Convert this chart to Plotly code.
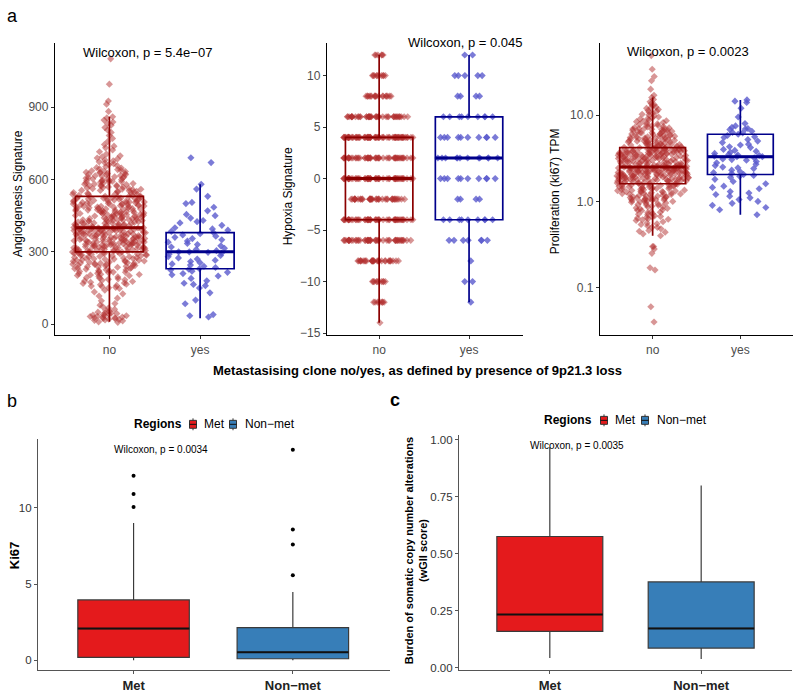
import plotly.graph_objects as go

# ---------------- panel a data ----------------
groups_a = ["no", "yes"]

angio_no = [8, 14, 18, 21, 24, 27, 30, 33, 35, 38, 41, 44, 47, 50, 54, 58, 62, 67, 73, 79,
            10, 16, 20, 23, 26, 29, 32, 37, 40, 46,
            86, 97, 108, 117, 126, 134, 141, 148,
            153, 158, 164, 169, 174, 179, 184, 188, 193, 198,
            151, 156, 161, 166, 171, 177, 182, 186, 191, 196,
            201, 204, 207, 210, 213, 216, 219, 222, 225, 228, 231, 234, 237, 240, 243, 245, 247, 249,
            202, 206, 211, 215, 218, 223, 226, 230, 233, 236, 239, 242, 246, 248, 252, 254, 258, 262,
            266, 270, 272, 276, 280, 284, 286, 290, 292, 294, 297, 299,
            251, 253, 255, 257, 259, 261, 263, 265, 267, 269, 271, 273, 275, 277, 279, 281, 283, 285,
            287, 289, 291, 293, 295, 296, 298, 299,
            300, 301, 303, 304, 305, 306, 308, 309, 310, 311, 313, 314, 315, 317, 318, 319, 320, 322,
            323, 324, 325, 327, 328, 329, 331, 332, 333, 334, 336, 337, 338, 339, 341, 342, 343, 345,
            346, 347, 348, 350, 351, 352, 353, 355, 356, 357, 359, 360, 361, 362, 364, 365, 366, 367,
            369, 370, 371, 373, 374, 375, 376, 378, 379, 380, 381, 383, 384, 385, 387, 388, 389, 390,
            392, 393, 394, 395, 396, 397, 398, 399, 399, 400, 400,
            300.5, 302.5, 305.5, 307.5, 309.5, 312.5, 314.5, 316.5, 318.5, 321.5, 323.5, 326.5,
            328.5, 330.5, 333.5, 335.5, 337.5, 340.5, 342.5, 344.5, 347.5, 349.5, 351.5, 354.5,
            356.5, 358.5, 361.5, 363.5, 365.5, 368.5, 370.5, 372.5, 375.5, 377.5, 379.5, 382.5,
            384.5, 386.5, 389.5, 391.5, 393.5, 396.5, 398.5,
            401, 403, 404, 406, 407, 409, 411, 412, 414, 415, 417, 419, 420, 422, 423, 425, 427, 428,
            430, 431, 433, 435, 436, 438, 439, 441, 443, 444, 446, 447, 449, 451, 452, 454, 455, 457,
            459, 460, 462, 463, 465, 467, 468, 470, 471, 473, 475, 476, 478, 479, 481, 483, 484, 486,
            487, 489, 491, 492, 494, 495, 497, 499, 500, 502, 503, 505, 507, 508, 510, 511, 513, 515,
            516, 518, 519, 521, 523, 524, 526, 527, 529, 530,
            402.5, 405.5, 408.5, 410.5, 413.5, 416.5, 418.5, 421.5, 424.5, 426.5, 429.5, 432.5,
            434.5, 437.5, 440.5, 442.5, 445.5, 448.5, 450.5, 453.5, 456.5, 458.5, 461.5, 464.5,
            466.5, 469.5, 472.5, 474.5, 477.5, 480.5, 482.5, 485.5, 488.5, 490.5, 493.5, 496.5,
            498.5, 501.5, 504.5, 506.5, 509.5, 512.5, 514.5, 517.5, 520.5, 522.5, 525.5, 528.5,
            532, 534, 537, 539, 541, 544, 546, 548, 551, 553, 555, 558, 560, 562, 565, 567, 569, 572,
            574, 576, 579, 581, 583, 586, 588, 590, 593, 595, 597, 599,
            533.5, 538.5, 542.5, 547.5, 550.5, 554.5, 559.5, 563.5, 568.5, 571.5, 575.5, 580.5,
            584.5, 589.5, 592.5, 596.5, 601.5, 606.5, 610.5, 615.5, 620.5, 624.5, 629.5, 634.5,
            602, 605, 608, 611, 613, 616, 619, 622, 625, 627, 630, 633, 636, 639, 641, 644, 647, 649,
            653, 657, 661, 665, 669, 673, 677, 681, 685, 689, 694, 698,
            705, 715, 722, 731, 738, 745, 758, 770, 782, 795,
            805, 815, 825, 832, 838, 846, 855, 860,
            882, 912, 925, 995, 1100]
angio_yes = [690, 670, 580, 560, 530, 505, 500, 485, 470, 455, 450, 440, 430, 425, 420, 410, 400,
             395, 390, 385, 380, 375, 370, 365, 360, 355, 350, 345, 340, 335, 330, 325, 320, 315,
             310, 305, 300, 300, 298, 295, 290, 285, 280, 275, 270, 265, 260, 255, 250, 245, 240,
             235, 230, 228, 225, 220, 215, 210, 205, 200, 190, 180, 170, 165, 160, 150, 130, 100,
             85, 40, 35, 30]
angio_q1 = [300, 230]
angio_med = [400, 300]
angio_q3 = [530, 380]
angio_lo = [10, 25]
angio_hi = [860, 580]

hyp_levels = [12, 10, 8, 6, 4, 2, 0, -2, -4, -6, -8, -10, -12, -14]
hyp_no_counts = [6, 10, 18, 45, 70, 55, 55, 40, 55, 50, 30, 10, 8, 1]
hyp_yes_counts = [2, 5, 4, 9, 10, 12, 10, 4, 9, 7, 1, 2, 1, 0]
hyp_q1 = [-4, -4]
hyp_med = [0, 2]
hyp_q3 = [4, 6]
hyp_lo = [-14, -12]
hyp_hi = [12, 12]

ki_no = [49, 34, 28, 25, 20, 17,
         16, 15.2, 14.3, 13.6, 13, 12.4, 12, 11.6, 11.1, 10.8, 10.5, 10.2, 10, 12.2, 11.3, 13.2,
         9.8, 9.5, 9.3, 9.0, 8.8, 8.6, 8.4, 8.2, 8.0, 7.9, 7.7, 7.6, 7.4, 7.3, 7.2, 7.1, 7.0, 7.0,
         9.1, 8.5, 7.8, 7.5,
         6.95, 6.9, 6.8, 6.7, 6.6, 6.5, 6.4, 6.35, 6.3, 6.2, 6.1, 6.0, 5.95, 5.9, 5.8, 5.75, 5.7,
         5.6, 5.55, 5.5, 5.45, 5.4, 5.35, 5.3, 5.25, 5.2, 5.15, 5.1, 5.05, 5.0,
         6.85, 6.65, 6.45, 6.25, 6.05, 5.9, 5.7, 5.5, 5.3, 5.1,
         4.98, 4.93, 4.88, 4.84, 4.8, 4.75, 4.7, 4.66, 4.62, 4.58, 4.54, 4.5, 4.46, 4.42, 4.38,
         4.33, 4.28, 4.24, 4.9, 4.7, 4.55, 4.4, 4.3, 4.25,
         4.21, 4.19, 4.16, 4.15, 4.12, 4.1, 4.07, 4.06, 4.03, 4.01, 3.99, 3.97, 3.95, 3.93, 3.9,
         3.89, 3.86, 3.85, 3.82, 3.8, 3.78, 3.76, 3.74, 3.72, 3.7, 3.68, 3.66, 3.64, 3.62, 3.6,
         3.58, 3.56, 3.54, 3.52, 3.5, 3.48, 3.46, 3.44, 3.42, 3.4, 3.38, 3.36, 3.34, 3.32, 3.3,
         3.28, 3.26, 3.24, 3.22, 3.2, 3.18, 3.16, 3.14, 3.12, 3.1, 3.08, 3.06, 3.04, 3.02, 3.0,
         2.98, 2.96, 2.94, 2.92, 2.9, 2.88, 2.86, 2.84, 2.82, 2.8, 2.78, 2.76, 2.74, 2.72, 2.7,
         2.68, 2.66, 2.64, 2.62, 2.6, 2.58, 2.56, 2.54, 2.52, 2.51,
         4.05, 3.98, 3.91, 3.83, 3.77, 3.71, 3.65, 3.59, 3.53, 3.47, 3.41, 3.35, 3.29, 3.23,
         3.17, 3.11, 3.05, 2.99, 2.93, 2.87, 2.81, 2.75, 2.69, 2.63, 2.57, 2.53,
         2.49, 2.48, 2.47, 2.46, 2.45, 2.44, 2.43, 2.42, 2.41, 2.4, 2.39, 2.38, 2.37, 2.36, 2.35,
         2.34, 2.33, 2.32, 2.31, 2.3, 2.29, 2.28, 2.27, 2.26, 2.25, 2.24, 2.23, 2.22, 2.21, 2.2,
         2.19, 2.18, 2.17, 2.16, 2.15, 2.14, 2.13, 2.12, 2.11, 2.1, 2.09, 2.08, 2.07, 2.06, 2.05,
         2.04, 2.03, 2.02, 2.01, 2.0, 1.99, 1.98, 1.97, 1.96, 1.95, 1.94, 1.93, 1.92, 1.91, 1.9,
         1.89, 1.88, 1.87, 1.86, 1.85, 1.84, 1.83, 1.82, 1.81, 1.8, 1.79, 1.78, 1.77, 1.76, 1.75,
         1.74, 1.73, 1.72, 1.71, 1.7, 1.68, 1.66, 1.64, 1.62, 1.6,
         2.495, 2.455, 2.415, 2.375, 2.335, 2.295, 2.255, 2.215, 2.175, 2.135, 2.095, 2.055,
         2.015, 1.975, 1.935, 1.895, 1.855, 1.815, 1.775, 1.735, 1.695, 1.67, 1.65, 1.63, 1.61,
         1.59, 1.57, 1.56, 1.55, 1.53, 1.52, 1.5, 1.49, 1.47, 1.46, 1.45, 1.43, 1.42, 1.4, 1.39,
         1.37, 1.36, 1.35, 1.33, 1.32, 1.3, 1.29, 1.27, 1.26, 1.25, 1.23, 1.22, 1.2, 1.19, 1.17,
         1.16, 1.15, 1.13, 1.12, 1.1, 1.09, 1.08, 1.07, 1.06, 1.05, 1.04, 1.03, 1.02, 1.01, 1.0,
         1.58, 1.54, 1.51, 1.48, 1.44, 1.41, 1.38, 1.34, 1.31, 1.28, 1.24, 1.21, 1.18, 1.14,
         1.11, 1.08, 1.05, 1.02,
         0.98, 0.96, 0.94, 0.92, 0.9, 0.88, 0.86, 0.84, 0.82, 0.8, 0.78, 0.76, 0.74, 0.72, 0.7,
         0.68, 0.67, 0.65, 0.64, 0.63, 0.62, 0.6, 0.99, 0.95, 0.91, 0.87, 0.83, 0.79, 0.75,
         0.71, 0.66, 0.61,
         0.58, 0.56, 0.54, 0.52, 0.5, 0.48, 0.46, 0.44, 0.42, 0.4, 0.55, 0.5, 0.45,
         0.3, 0.3, 0.28, 0.25, 0.17, 0.16, 0.06, 0.04]
ki_yes = [15, 14.5, 14, 12, 9.5, 8, 7.5, 7.2, 7, 6.9, 6.8, 6.5, 6.3, 6.2, 6, 5.8, 5.6, 5.5, 5.2,
          5, 4.8, 4.6, 4.5, 4.3, 4.2, 4, 3.9, 3.8, 3.7, 3.6, 3.5, 3.45, 3.4, 3.35, 3.3, 3.3, 3.2,
          3.1, 3.05, 3, 2.9, 2.8, 2.7, 2.6, 2.5, 2.45, 2.4, 2.3, 2.2, 2.15, 2.1, 2.05, 2, 1.95,
          1.9, 1.8, 1.7, 1.6, 1.5, 1.45, 1.4, 1.3, 1.25, 1.2, 1.15, 1.1, 1.05, 1.0, 0.95, 0.9,
          0.85, 0.8, 0.7]
ki_q1 = [1.6, 2.05]
ki_med = [2.5, 3.3]
ki_q3 = [4.2, 6.0]
ki_lo = [0.4, 0.7]
ki_hi = [16, 15]

# ---------------- panel b / c data ----------------
regions = ["Met", "Non\u2212met"]
b_q1 = [0.19, 0.1]
b_med = [2.08, 0.52]
b_q3 = [3.96, 2.14]
b_lo = [0, 0]
b_hi = [9.0, 4.48]
b_out_met = [10.06, 10.9, 12.1]
b_out_nonmet = [5.58, 7.6, 8.57, 13.8]

c_q1 = [0.16, 0.087]
c_med = [0.234, 0.173]
c_q3 = [0.576, 0.377]
c_lo = [0.043, 0.039]
c_hi = [0.967, 0.80]

# ---------------- styling ----------------
W, H = 800, 695
FONT = "Liberation Sans, Arial, sans-serif"
NO_LINE = "#8B0000"
YES_LINE = "#00008B"
NO_PT = "rgba(178,45,45,0.5)"
YES_PT = "rgba(90,90,205,0.8)"
MET = "#E41A1C"
NONMET = "#377EB8"


def px(x):
    return x / W


def py(y):
    return 1 - y / H


fig = go.Figure()


def add_points(vals, cat, color, xa, ya, width=0.8):
    if not vals:
        return
    fig.add_trace(go.Box(
        x=[cat] * len(vals), y=vals, xaxis=xa, yaxis=ya,
        boxpoints="all", jitter=1, pointpos=0, width=width,
        line=dict(color="rgba(0,0,0,0)", width=0), fillcolor="rgba(0,0,0,0)",
        whiskerwidth=0,
        marker=dict(symbol="diamond", size=5.5, color=color, line=dict(width=0)),
        showlegend=False, hoverinfo="y"))


def add_banded(vals, cat, color, xa, ya, bands):
    for lo, hi, w in bands:
        add_points([v for v in vals if lo <= v < hi], cat, color, xa, ya, w)


def add_box(cat, q1, med, q3, lo, hi, color, xa, ya, width, lw, fill, medcolor, medw):
    fig.add_trace(go.Box(
        x=[cat], q1=[q1], median=[med], q3=[q3],
        lowerfence=[lo], upperfence=[hi], xaxis=xa, yaxis=ya,
        boxpoints=False, width=width, whiskerwidth=0,
        line=dict(color=color, width=lw), fillcolor=fill, showlegend=False))
    # thicker median bar (flat box at the median value)
    fig.add_trace(go.Box(
        x=[cat], q1=[med], median=[med], q3=[med],
        lowerfence=[med], upperfence=[med], xaxis=xa, yaxis=ya,
        boxpoints=False, width=width, whiskerwidth=0,
        line=dict(color=medcolor, width=medw), fillcolor="rgba(0,0,0,0)", showlegend=False))


INF = float("inf")
# angiogenesis
add_banded(angio_no, "no", NO_PT, "x", "y",
           [(-INF, 100, 0.45), (100, 170, 0.6), (170, 560, 0.82), (560, 640, 0.6),
            (640, 720, 0.35), (720, INF, 0.14)])
add_points(angio_yes, "yes", YES_PT, "x", "y", 0.8)
# hypoxia: one row per level, row width grows with its count
for lev, cn, cy in zip(hyp_levels, hyp_no_counts, hyp_yes_counts):
    add_points([lev] * cn, "no", NO_PT, "x2", "y2", min(0.8, 0.02 + 0.0155 * cn))
    add_points([lev] * cy, "yes", YES_PT, "x2", "y2", min(0.82, 0.075 * cy))
# ki67
add_banded(ki_no, "no", NO_PT, "x3", "y3",
           [(0, 0.35, 0.08), (0.35, 0.8, 0.42), (0.8, 1.2, 0.62), (1.2, 7, 0.82),
            (7, 11, 0.5), (11, INF, 0.18)])
add_points(ki_yes, "yes", YES_PT, "x3", "y3", 0.8)

for xa, ya, q1, med, q3, lo, hi in [
        ("x", "y", angio_q1, angio_med, angio_q3, angio_lo, angio_hi),
        ("x2", "y2", hyp_q1, hyp_med, hyp_q3, hyp_lo, hyp_hi),
        ("x3", "y3", ki_q1, ki_med, ki_q3, ki_lo, ki_hi)]:
    for i, col in enumerate([NO_LINE, YES_LINE]):
        add_box(groups_a[i], q1[i], med[i], q3[i], lo[i], hi[i], col, xa, ya,
                0.75, 1.7, "rgba(0,0,0,0)", col, 3)

# panel b and c boxes
for xa, ya, q1, med, q3, lo, hi in [
        ("x4", "y4", b_q1, b_med, b_q3, b_lo, b_hi),
        ("x5", "y5", c_q1, c_med, c_q3, c_lo, c_hi)]:
    for i, col in enumerate([MET, NONMET]):
        add_box(regions[i], q1[i], med[i], q3[i], lo[i], hi[i], "#3a3a3a", xa, ya,
                0.7, 1.2, col, "#111111", 2)

fig.add_trace(go.Scatter(x=[regions[0]] * len(b_out_met), y=b_out_met, xaxis="x4", yaxis="y4",
                         mode="markers", marker=dict(color="black", size=4), showlegend=False))
fig.add_trace(go.Scatter(x=[regions[1]] * len(b_out_nonmet), y=b_out_nonmet, xaxis="x4",
                         yaxis="y4", mode="markers", marker=dict(color="black", size=4),
                         showlegend=False))

ytop, ybot = py(42), py(337)
axis_a = dict(showline=True, linecolor="black", linewidth=1.3, ticks="outside", ticklen=3,
              tickcolor="#333", tickfont=dict(size=12, color="#4D4D4D", family=FONT),
              showgrid=False, zeroline=False, fixedrange=True)
axis_b = dict(showline=True, linecolor="#555", linewidth=1.1, ticks="outside", ticklen=3,
              tickcolor="#555", tickfont=dict(size=11.5, color="#333", family=FONT),
              showgrid=False, zeroline=False, fixedrange=True)
xfont_b = dict(size=13, color="#222", family=FONT, weight="bold")

layout = dict(
    width=W, height=H, margin=dict(l=0, r=0, t=0, b=0),
    paper_bgcolor="white", plot_bgcolor="white", boxmode="overlay", showlegend=False,
    font=dict(family=FONT, color="black"),
    xaxis=dict(axis_a, domain=[px(55), px(250)], anchor="y", type="category",
               range=[-0.6, 1.55], categoryarray=groups_a),
    yaxis=dict(axis_a, domain=[ybot, ytop], anchor="x", range=[-45, 1167],
               tickvals=[0, 300, 600, 900]),
    xaxis2=dict(axis_a, domain=[px(327), px(523)], anchor="y2", type="category",
                range=[-0.58, 1.6], categoryarray=groups_a),
    yaxis2=dict(axis_a, domain=[ybot, ytop], anchor="x2", range=[-15.2, 13.2],
                tickvals=[-15, -10, -5, 0, 5, 10]),
    xaxis3=dict(axis_a, domain=[px(600), px(793)], anchor="y3", type="category",
                range=[-0.6, 1.6], categoryarray=groups_a),
    yaxis3=dict(axis_a, domain=[ybot, ytop], anchor="x3", type="log", range=[-1.55, 1.84],
                tickvals=[0.1, 1, 10], ticktext=["0.1", "1.0", "10.0"]),
    xaxis4=dict(axis_b, domain=[px(38), px(390)], anchor="y4", type="category",
                range=[-0.6, 1.61], categoryarray=regions, tickfont=xfont_b),
    yaxis4=dict(axis_b, domain=[py(675), py(442)], anchor="x4", range=[-0.65, 14.5],
                tickvals=[0, 5, 10]),
    xaxis5=dict(axis_b, domain=[px(459), px(792)], anchor="y5", type="category",
                range=[-0.6, 1.6], categoryarray=regions, tickfont=xfont_b),
    yaxis5=dict(axis_b, domain=[py(675), py(438)], anchor="x5", range=[-0.01, 1.02],
                tickvals=[0, 0.25, 0.5, 0.75, 1.0],
                ticktext=["0.00", "0.25", "0.50", "0.75", "1.00"]),
)
fig.update_layout(**layout)

annos = [
    ("a", 12, 15, 18, False, 0, "center"),
    ("b", 12, 403, 18, False, 0, "center"),
    ("c", 395, 402, 18, True, 0, "center"),
    ("Wilcoxon, p = 5.4e\u221207", 147, 52, 13, False, 0, "center"),
    ("Wilcoxon, p = 0.045", 465, 42, 13, False, 0, "center"),
    ("Wilcoxon, p = 0.0023", 688, 51, 13, False, 0, "center"),
    ("Wilcoxon, p = 0.0034", 161, 452, 10, False, 0, "center"),
    ("Wilcoxon, p = 0.0035", 577, 448, 10, False, 0, "center"),
    ("Metastasising clone no/yes, as defined by presence of 9p21.3 loss", 417, 373, 13, True, 0,
     "center"),
    ("Angiogenesis Signature", 18, 195, 12, False, -90, "center"),
    ("Hypoxia Signature", 288, 197, 12, False, -90, "center"),
    ("Proliferation (ki67) TPM", 555, 192, 12, False, -90, "center"),
    ("Ki67", 14, 560, 13, True, -90, "center"),
    ("Burden of somatic copy number alterations<br>(wGII score)", 416, 555, 11, True, -90,
     "center"),
    # legends
    ("Regions", 184, 427, 12, True, 0, "right"),
    (regions[0], 202, 427, 12, False, 0, "left"),
    (regions[1], 243, 427, 12, False, 0, "left"),
    ("Regions", 594, 423, 12, True, 0, "right"),
    (regions[0], 613, 423, 12, False, 0, "left"),
    (regions[1], 655, 423, 12, False, 0, "left"),
]
for text, x, y, size, bold, ang, anc in annos:
    fig.add_annotation(
        text=f"<b>{text}</b>" if bold else text, x=px(x), y=py(y), xref="paper", yref="paper",
        showarrow=False, xanchor=anc, yanchor="middle", textangle=ang,
        font=dict(size=size, color="black", family=FONT))

# legend keys (small box glyphs)
for cx, cy, col in [(193, 427, MET), (233, 427, NONMET), (604, 423, MET), (645, 423, NONMET)]:
    fig.add_shape(type="line", xref="paper", yref="paper", x0=px(cx), x1=px(cx),
                  y0=py(cy - 6), y1=py(cy + 6), line=dict(color="#333", width=1))
    fig.add_shape(type="rect", xref="paper", yref="paper", x0=px(cx - 3.5), x1=px(cx + 3.5),
                  y0=py(cy - 4), y1=py(cy + 4), fillcolor=col, line=dict(color="#333", width=1))
    fig.add_shape(type="line", xref="paper", yref="paper", x0=px(cx - 3.5), x1=px(cx + 3.5),
                  y0=py(cy), y1=py(cy), line=dict(color="#111", width=1))

# remove the default page margin so the figure fills the 800x695 window exactly
fig.write_html("out.html", config={"displayModeBar": False},
               post_script="document.body.style.margin='0';document.body.style.overflow='hidden';")
